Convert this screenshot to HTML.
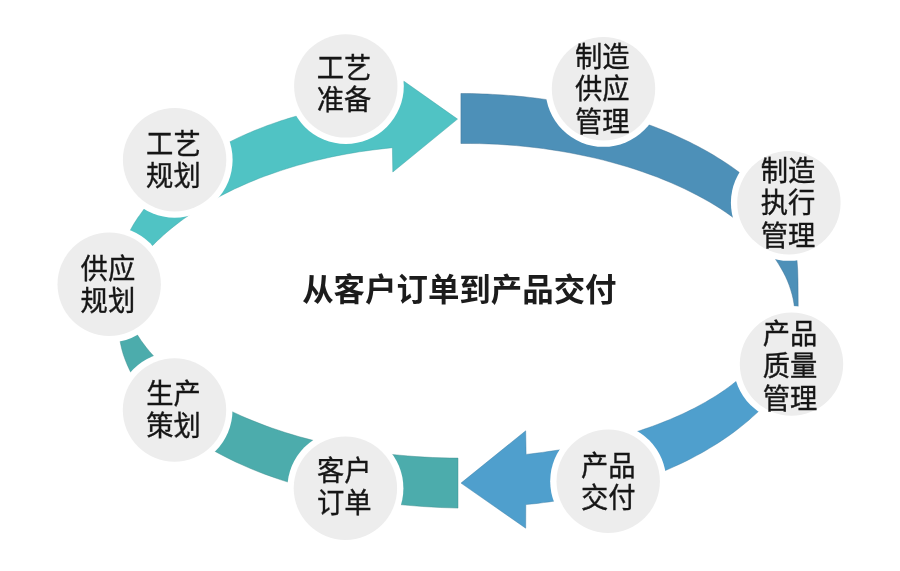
<!DOCTYPE html>
<html lang="zh-CN"><head><meta charset="utf-8"><title>从客户订单到产品交付</title>
<style>
html,body{margin:0;padding:0;background:#fff;}
body{width:900px;height:571px;position:relative;overflow:hidden;filter:blur(0.45px);font-family:"Liberation Sans","Noto Sans CJK SC",sans-serif;}
svg{position:absolute;left:0;top:0;}
.lb{position:absolute;width:120px;text-align:center;color:#161616;-webkit-text-stroke:0.35px #161616;white-space:nowrap;font-size:27.3px;line-height:30.9px;transform:scaleY(1.045);transform-origin:50% 50%;}
.title{position:absolute;left:259.35px;top:266.5px;width:400px;text-align:center;font-weight:bold;font-size:31.45px;line-height:48px;color:#1c1c1c;white-space:nowrap;}
</style></head><body>
<svg width="900" height="571" viewBox="0 0 900 571"><path d="M115.1,275.7 L115.4,273.4 L115.8,271.0 L116.2,268.6 L116.7,266.2 L117.3,263.9 L117.8,261.5 L118.5,259.1 L119.1,256.8 L119.9,254.4 L120.6,252.1 L121.4,249.7 L122.3,247.4 L123.2,245.0 L124.2,242.7 L125.2,240.4 L126.3,238.1 L127.4,235.8 L128.5,233.5 L129.7,231.2 L131.0,228.9 L132.3,226.6 L133.6,224.3 L135.0,222.1 L136.5,219.8 L137.9,217.6 L139.5,215.4 L141.1,213.2 L142.7,211.0 L144.3,208.8 L146.1,206.6 L147.8,204.5 L149.6,202.3 L151.5,200.2 L153.3,198.1 L155.3,195.9 L157.3,193.9 L159.3,191.8 L161.3,189.7 L163.4,187.7 L165.6,185.6 L167.8,183.6 L170.0,181.6 L172.3,179.6 L174.6,177.7 L176.9,175.7 L179.3,173.8 L181.7,171.9 L184.2,170.0 L186.7,168.1 L189.3,166.3 L191.8,164.4 L194.5,162.6 L197.1,160.8 L199.8,159.0 L202.5,157.3 L205.3,155.5 L208.1,153.8 L210.9,152.1 L213.8,150.5 L216.7,148.8 L219.6,147.2 L222.6,145.6 L225.6,144.0 L228.6,142.4 L231.7,140.9 L234.8,139.4 L237.9,137.9 L241.1,136.4 L244.3,135.0 L247.5,133.6 L250.7,132.2 L254.0,130.8 L257.3,129.5 L260.6,128.2 L263.9,126.9 L267.3,125.6 L270.7,124.4 L274.1,123.2 L277.6,122.0 L281.0,120.8 L284.5,119.7 L288.0,118.6 L291.5,117.5 L295.1,116.5 L298.7,115.4 L302.3,114.4 L305.9,113.5 L309.5,112.5 L313.1,111.6 L316.8,110.7 L320.5,109.9 L324.2,109.0 L327.9,108.2 L331.6,107.4 L335.4,106.7 L339.1,106.0 L342.9,105.3 L346.6,104.6 L350.4,104.0 L354.2,103.4 L358.0,102.8 L361.9,102.3 L365.7,101.8 L369.5,101.3 L373.4,100.8 L377.2,100.4 L381.1,100.0 L384.9,99.6 L388.8,99.3 L392.7,99.0 L396.5,98.7L403.6,81.0L457.5,119.1L392.8,172.0L392.4,147.7L385.7,148.4L379.1,149.2L372.5,150.0L365.9,150.9L359.4,151.8L353.0,152.9L346.6,154.0L340.3,155.2L334.0,156.4L327.8,157.8L321.6,159.2L315.6,160.6L309.6,162.1L303.7,163.7L297.8,165.3L292.1,167.0L286.4,168.8L280.8,170.6L275.3,172.5L269.8,174.4L264.5,176.3L259.2,178.3L254.1,180.4L249.0,182.5L244.0,184.7L239.1,186.9L234.3,189.1L229.6,191.4L225.0,193.7L220.5,196.1L216.1,198.4L211.7,200.9L207.5,203.3L203.3,205.8L199.2,208.4L195.3,210.9L191.4,213.5L187.6,216.2L183.8,218.8L180.2,221.5L176.7,224.2L173.2,226.9L169.8,229.7L166.5,232.5L163.3,235.3L160.2,238.2L157.1,241.0L154.2,243.9L151.3,246.8L148.5,249.8L145.7,252.8L143.1,255.7L140.5,258.8L137.9,261.8L135.5,264.9L133.1,268.0L130.8,271.1L128.6,274.3L126.4,277.4Z" fill="#50c3c4" stroke="#3a9fa0" stroke-width="0.8" stroke-opacity="0.55" stroke-linejoin="miter"/><path d="M460.9,93.5 L466.2,93.5 L471.5,93.6 L476.8,93.7 L482.1,93.9 L487.4,94.1 L492.7,94.4 L498.0,94.7 L503.3,95.0 L508.5,95.4 L513.8,95.8 L519.1,96.3 L524.3,96.8 L529.6,97.4 L534.8,98.0 L540.0,98.7 L545.2,99.4 L550.4,100.2 L555.6,101.0 L560.8,101.8 L565.9,102.7 L571.0,103.6 L576.1,104.6 L581.2,105.7 L586.3,106.8 L591.3,107.9 L596.3,109.1 L601.3,110.3 L606.3,111.5 L611.2,112.9 L616.1,114.2 L621.0,115.6 L625.8,117.1 L630.6,118.6 L635.4,120.1 L640.1,121.7 L644.8,123.3 L649.4,125.0 L654.1,126.7 L658.6,128.5 L663.2,130.3 L667.6,132.1 L672.1,134.0 L676.5,136.0 L680.8,138.0 L685.1,140.0 L689.4,142.0 L693.6,144.2 L697.7,146.3 L701.8,148.5 L705.9,150.7 L709.9,153.0 L713.8,155.3 L717.6,157.7 L721.4,160.1 L725.2,162.5 L728.9,164.9 L732.5,167.4 L736.0,170.0 L739.5,172.6 L752.0,184.0 L764.0,196.5 L775.0,210.5 L784.0,225.5 L791.0,242.0 L795.3,252.0 L797.0,260.5 L797.7,270.0 L798.0,281.5 L798.1,295.0 L798.2,307.0 L798.2,322.0L794.9,317.0L794.8,312.4L794.5,307.8L793.9,303.3L793.1,298.8L792.0,294.2L790.7,289.8L789.2,285.3L787.5,280.9L785.5,276.5L783.3,272.2L780.9,267.9L778.3,263.6L775.5,259.3L772.4,255.2L769.2,251.0L765.7,246.9L762.1,242.8L758.2,238.8L754.2,234.9L749.9,231.0L745.5,227.1L740.8,223.3L736.0,219.6L731.0,215.9L725.8,212.3L720.5,208.7L714.9,205.2L709.2,201.8L703.3,198.5L697.2,195.2L690.9,192.0L684.5,188.8L677.9,185.8L671.2,182.8L664.2,179.9L657.2,177.1L649.9,174.4L642.5,171.8L635.0,169.2L627.3,166.8L619.4,164.5L611.5,162.3L603.4,160.1L595.1,158.1L586.8,156.3L578.3,154.5L569.7,152.8L561.0,151.3L552.2,149.9L543.3,148.6L534.4,147.5L525.3,146.5L516.2,145.6L507.1,144.9L497.9,144.3L488.7,143.9L479.4,143.6L470.2,143.5L460.9,143.5Z" fill="#4d90b8" stroke="#3b6f90" stroke-width="0.8" stroke-opacity="0.55" stroke-linejoin="miter"/><path d="M762.9,353.8 L761.0,356.3 L759.1,358.8 L757.0,361.2 L754.9,363.7 L752.6,366.1 L750.3,368.6 L747.9,371.0 L745.4,373.3 L742.8,375.7 L740.1,378.0 L737.4,380.3 L734.6,382.6 L731.6,384.9 L728.6,387.2 L725.5,389.4 L722.4,391.6 L719.1,393.8 L715.8,395.9 L712.4,398.0 L708.9,400.1 L705.4,402.2 L701.7,404.2 L698.0,406.2 L694.3,408.2 L690.4,410.1 L686.5,412.1 L682.5,413.9 L678.4,415.8 L674.3,417.6 L670.1,419.4 L665.9,421.1 L661.6,422.8 L657.2,424.5 L652.7,426.2 L648.2,427.8 L643.7,429.3 L639.1,430.9 L634.4,432.4 L629.7,433.8 L624.9,435.3 L620.1,436.6 L615.2,438.0 L610.3,439.3 L605.3,440.5 L600.3,441.8 L595.2,442.9 L590.1,444.1 L585.0,445.2 L579.8,446.2 L574.5,447.2 L569.3,448.2 L564.0,449.1 L558.7,450.0 L553.3,450.8 L547.9,451.6 L542.5,452.4 L537.0,453.1 L531.6,453.8 L526.1,454.4L525.7,430.8L461.0,483.1L525.7,528.2L525.8,504.6L531.7,504.0L537.5,503.4L543.3,502.6L549.1,501.9L554.9,501.0L560.6,500.1L566.4,499.1L572.1,498.1L577.7,497.0L583.4,495.9L589.0,494.6L594.6,493.4L600.1,492.0L605.6,490.6L611.1,489.2L616.5,487.6L621.9,486.1L627.3,484.4L632.6,482.7L637.8,481.0L643.0,479.2L648.2,477.3L653.3,475.4L658.3,473.4L663.3,471.4L668.2,469.3L673.1,467.1L677.9,464.9L682.7,462.7L687.4,460.4L692.0,458.0L696.5,455.6L701.0,453.2L705.4,450.7L709.7,448.1L714.0,445.5L718.2,442.9L722.3,440.2L726.3,437.5L730.3,434.7L734.1,431.9L737.9,429.0L741.6,426.1L745.3,423.1L748.8,420.2L752.2,417.1L755.6,414.1L758.9,411.0L762.1,407.8L765.1,404.7L768.1,401.5L771.0,398.2L773.8,395.0L776.6,391.7L779.2,388.4L781.7,385.0L784.1,381.6L786.4,378.2L788.6,374.8Z" fill="#4f9fcd" stroke="#3d7ea6" stroke-width="0.8" stroke-opacity="0.55" stroke-linejoin="miter"/><path d="M458.0,458.1 L449.6,458.0 L441.2,457.8 L432.8,457.5 L424.5,457.1 L416.2,456.6 L407.9,455.9 L399.6,455.2 L391.5,454.4 L383.3,453.4 L375.3,452.4 L367.3,451.2 L359.3,450.0 L351.5,448.7 L343.7,447.2 L336.0,445.7 L328.5,444.1 L321.0,442.3 L313.6,440.5 L306.3,438.6 L299.2,436.7 L292.1,434.6 L285.2,432.5 L278.4,430.2 L271.7,428.0 L265.1,425.6 L258.7,423.1 L252.4,420.6 L246.2,418.1 L240.2,415.4 L234.3,412.7 L228.5,409.9 L222.9,407.1 L217.4,404.2 L212.1,401.3 L206.9,398.3 L201.8,395.2 L196.9,392.1 L192.1,388.9 L187.5,385.7 L183.1,382.5 L178.7,379.2 L174.6,375.9 L170.6,372.5 L166.7,369.1 L163.0,365.6 L159.4,362.1 L155.9,358.6 L152.7,355.0 L149.5,351.4 L146.5,347.8 L143.7,344.1 L141.0,340.4 L138.5,336.6 L136.1,332.9 L133.8,329.1 L131.7,325.3 L129.8,321.4 L128.0,317.5 L126.3,313.6L119.5,312.0L118.9,317.3L118.6,322.6L118.6,327.9L119.0,333.3L119.6,338.6L120.6,343.9L121.8,349.2L123.3,354.5L125.2,359.8L127.3,365.0L129.7,370.2L132.4,375.4L135.3,380.5L138.6,385.5L142.1,390.5L145.8,395.4L149.8,400.2L154.1,405.0L158.6,409.7L163.3,414.3L168.2,418.8L173.4,423.2L178.8,427.6L184.4,431.8L190.1,436.0L196.1,440.0L202.3,443.9L208.6,447.7L215.1,451.4L221.8,455.0L228.6,458.5L235.6,461.9L242.7,465.1L250.0,468.3L257.3,471.3L264.8,474.2L272.5,476.9L280.2,479.6L288.0,482.1L295.9,484.5L303.9,486.8L312.0,489.0L320.2,491.0L328.5,493.0L336.8,494.8L345.2,496.5L353.6,498.1L362.1,499.5L370.6,500.9L379.2,502.1L387.9,503.2L396.5,504.2L405.2,505.1L414.0,505.8L422.7,506.5L431.5,507.0L440.3,507.5L449.2,507.8L458.0,508.1Z" fill="#4cacac" stroke="#3a8a8a" stroke-width="0.8" stroke-opacity="0.55" stroke-linejoin="miter"/><circle cx="345.8" cy="85.9" r="58.0" fill="#fff"/><circle cx="345.8" cy="85.9" r="51.7" fill="#ededed"/><circle cx="174.6" cy="159.7" r="58.0" fill="#fff"/><circle cx="174.6" cy="159.7" r="51.7" fill="#ededed"/><circle cx="109.2" cy="284.3" r="58.0" fill="#fff"/><circle cx="109.2" cy="284.3" r="51.7" fill="#ededed"/><circle cx="174.5" cy="410.0" r="58.0" fill="#fff"/><circle cx="174.5" cy="410.0" r="51.7" fill="#ededed"/><circle cx="345.4" cy="488.3" r="58.0" fill="#fff"/><circle cx="345.4" cy="488.3" r="51.7" fill="#ededed"/><circle cx="608.2" cy="481.3" r="58.0" fill="#fff"/><circle cx="608.2" cy="481.3" r="51.7" fill="#ededed"/><circle cx="791.5" cy="364.1" r="58.0" fill="#fff"/><circle cx="791.5" cy="364.1" r="51.7" fill="#ededed"/><circle cx="788.9" cy="202.8" r="58.0" fill="#fff"/><circle cx="788.9" cy="202.8" r="51.7" fill="#ededed"/><circle cx="603.5" cy="88.8" r="58.0" fill="#fff"/><circle cx="603.5" cy="88.8" r="51.7" fill="#ededed"/></svg>
<div class="lb" style="left:284.1px;top:54.0px">工艺<br>准备</div><div class="lb" style="left:113.4px;top:129.6px">工艺<br>规划</div><div class="lb" style="left:47.9px;top:255.2px">供应<br>规划</div><div class="lb" style="left:113.5px;top:379.6px">生产<br>策划</div><div class="lb" style="left:284.3px;top:456.9px">客户<br>订单</div><div class="lb" style="left:548.2px;top:452.2px">产品<br>交付</div><div class="lb" style="left:730.0px;top:320.8px">产品<br>质量<br>管理</div><div class="lb" style="left:728.1px;top:158.1px">制造<br>执行<br>管理</div><div class="lb" style="left:542.3px;top:43.6px">制造<br>供应<br>管理</div>
<div class="title">从客户订单到产品交付</div>
</body></html>
